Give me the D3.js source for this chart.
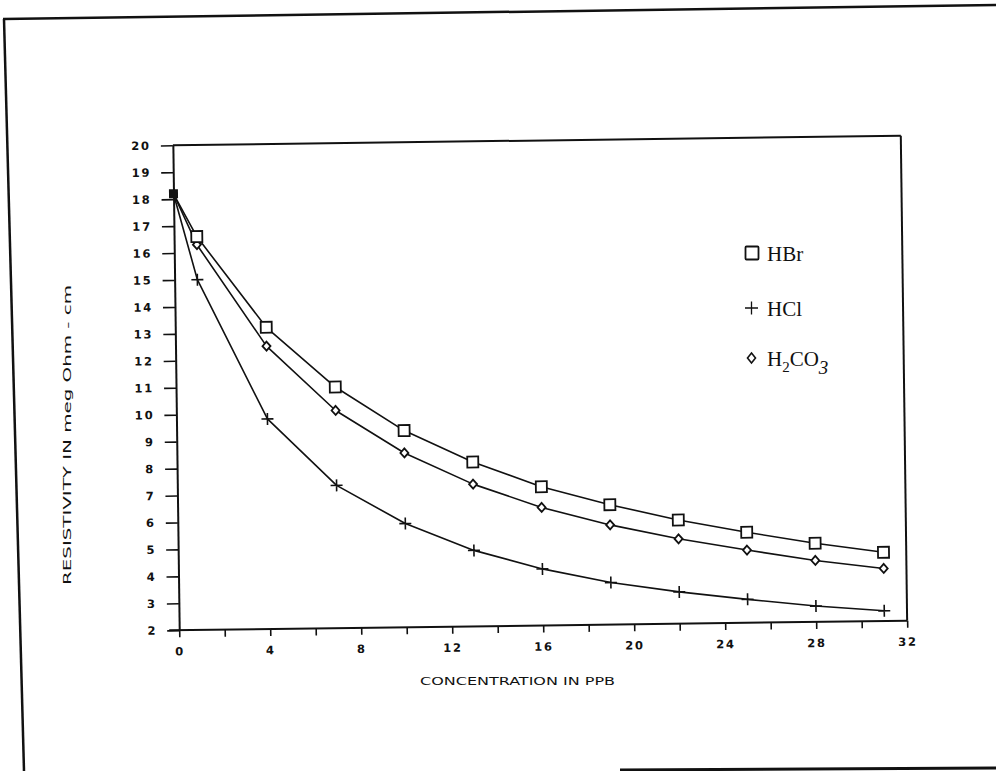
<!DOCTYPE html>
<html><head><meta charset="utf-8">
<script src="https://cdn.jsdelivr.net/npm/d3@7"></script>
<style>body{margin:0;background:#fff} svg{display:block}</style>
</head><body>
<svg id="c" width="996" height="771"></svg>
<script>
// ---- data ----
const concentration = [0, 1, 4, 7, 10, 13, 16, 19, 22, 25, 28, 31];
const hbr   = [18.2, 16.6, 13.2, 10.95, 9.3, 8.1, 7.15, 6.45, 5.85, 5.36, 4.92, 4.55];
const hcl   = [18.2, 15.0, 9.8, 7.3, 5.85, 4.82, 4.1, 3.56, 3.18, 2.87, 2.59, 2.38];
const h2co3 = [18.2, 16.3, 12.5, 10.08, 8.47, 7.28, 6.38, 5.7, 5.15, 4.7, 4.28, 3.95];
const seriesNames = ["HBr", "HCl", "H2CO3"];
const xTickValues = d3.range(0, 33, 2);
const xTickLabels = [0, 4, 8, 12, 16, 20, 24, 28, 32];
const yTickValues = d3.range(2, 21, 1);
const xTitle = "CONCENTRATION IN PPB";
const yTitle = "RESISTIVITY IN meg Ohm - cm";

const svg = d3.select("#c");
const ink = "#111";

// page frame (scanned sheet border)
svg.append("path").attr("d", "M3,19 L996,5").attr("stroke", ink).attr("stroke-width", 2.5).attr("fill", "none");
svg.append("path").attr("d", "M4,19 L24,771").attr("stroke", ink).attr("stroke-width", 2.5).attr("fill", "none");
svg.append("path").attr("d", "M620,770 L996,768").attr("stroke", ink).attr("stroke-width", 3).attr("fill", "none");

const L = 176, R = 904, T = 140.5, B = 625.5;
const x = d3.scaleLinear().domain([0, 32]).range([L, R]);
const y = d3.scaleLinear().domain([2, 20]).range([B, T]);

const g = svg.append("g").attr("transform", "rotate(-0.75,540,383)");

// frame top & right
g.append("line").attr("x1", L).attr("x2", R).attr("y1", T).attr("y2", T).attr("stroke", ink).attr("stroke-width", 2);
g.append("line").attr("x1", R).attr("x2", R).attr("y1", T).attr("y2", B).attr("stroke", ink).attr("stroke-width", 2);

const tickFont = "'DejaVu Sans', sans-serif";
const yAxis = g.append("g").attr("transform", `translate(${L},0)`)
  .call(d3.axisLeft(y).tickValues(yTickValues).tickSize(12).tickSizeOuter(0).tickPadding(10).tickFormat(d3.format("d")));
const xAxis = g.append("g").attr("transform", `translate(0,${B})`)
  .call(d3.axisBottom(x).tickValues(xTickValues).tickSize(7).tickSizeOuter(0).tickPadding(10)
    .tickFormat(d => xTickLabels.includes(d) ? d : ""));
[yAxis, xAxis].forEach(a => {
  a.select(".domain").attr("stroke", ink).attr("stroke-width", 2);
  a.selectAll(".tick line").attr("stroke", ink).attr("stroke-width", 1.6);
  a.selectAll("text").attr("fill", ink).attr("font-family", tickFont)
    .attr("font-weight", "bold").attr("font-size", 11.5).attr("letter-spacing", 1.8);
});
xAxis.select(".domain").attr("d", `M${L - 10},0H${R}`);

// series
const series = [
  {name: seriesNames[0], values: hbr, marker: "square"},
  {name: seriesNames[1], values: hcl, marker: "plus"},
  {name: seriesNames[2], values: h2co3, marker: "diamond"}
];
const line = d3.line().x(d => x(d[0])).y(d => y(d[1]));
series.forEach(s => {
  const pts = concentration.map((c, i) => [c, s.values[i]]);
  g.append("path").datum(pts).attr("d", line).attr("fill", "none")
    .attr("stroke", ink).attr("stroke-width", 1.6).attr("stroke-linejoin", "round");
});
function marker(sel, type, cx, cy) {
  if (type === "square") {
    sel.append("rect").attr("x", cx - 5.5).attr("y", cy - 5.5).attr("width", 11).attr("height", 11)
      .attr("fill", "#fff").attr("stroke", ink).attr("stroke-width", 1.8);
  } else if (type === "plus") {
    sel.append("path").attr("d", `M${cx - 6},${cy}H${cx + 6}M${cx},${cy - 6}V${cy + 6}`)
      .attr("stroke", ink).attr("stroke-width", 1.6);
  } else {
    sel.append("path").attr("d", `M${cx},${cy - 4.5}L${cx + 4},${cy}L${cx},${cy + 4.5}L${cx - 4},${cy}Z`)
      .attr("fill", "#fff").attr("stroke", ink).attr("stroke-width", 1.8);
  }
}
[series[2], series[1], series[0]].forEach(s => {
  concentration.forEach((c, i) => {
    if (i === 0) return;
    marker(g, s.marker, x(c), y(s.values[i]));
  });
});
g.append("rect").attr("x", x(concentration[0]) - 4.5).attr("y", y(hbr[0]) - 4.5)
  .attr("width", 9).attr("height", 9).attr("fill", ink);

// axis titles
svg.append("text").attr("x", 420).attr("y", 685).attr("textLength", 195).attr("lengthAdjust", "spacingAndGlyphs")
  .attr("font-family", tickFont).attr("font-size", 10.5).attr("fill", ink).text(xTitle);
svg.append("text").attr("transform", "translate(71,435) rotate(-90)").attr("text-anchor", "middle")
  .attr("textLength", 300).attr("lengthAdjust", "spacingAndGlyphs")
  .attr("font-family", tickFont).attr("font-size", 10.5).attr("fill", ink).text(yTitle);

// legend
const lg = svg.append("g");
const legendY = [253, 308, 358];
const serif = "'Liberation Serif', 'Times New Roman', serif";
series.forEach((s, i) => {
  const cy = legendY[i];
  if (s.marker === "square") {
    lg.append("rect").attr("x", 745.5).attr("y", cy - 6.5).attr("width", 13).attr("height", 13)
      .attr("fill", "none").attr("stroke", ink).attr("stroke-width", 1.8).attr("rx", 1);
  } else if (s.marker === "plus") {
    lg.append("path").attr("d", `M${745},${cy}H${758}M${751.5},${cy - 6.5}V${cy + 6.5}`)
      .attr("stroke", ink).attr("stroke-width", 1.3);
  } else {
    lg.append("path").attr("d", `M751.5,${cy - 5}L755.5,${cy}L751.5,${cy + 5}L747.5,${cy}Z`)
      .attr("fill", "none").attr("stroke", ink).attr("stroke-width", 1.6);
  }
  const t = lg.append("text").attr("x", 767).attr("y", cy + 8).attr("font-family", serif)
    .attr("font-size", 21).attr("fill", ink);
  if (s.name === "H2CO3") {
    t.append("tspan").text("H");
    t.append("tspan").attr("dy", 6).attr("font-size", 15).text("2");
    t.append("tspan").attr("dy", -6).text("CO");
    t.append("tspan").attr("dy", 8).attr("font-size", 19).attr("font-style", "italic").text("3");
  } else {
    t.text(s.name);
  }
});
</script>
</body></html>
